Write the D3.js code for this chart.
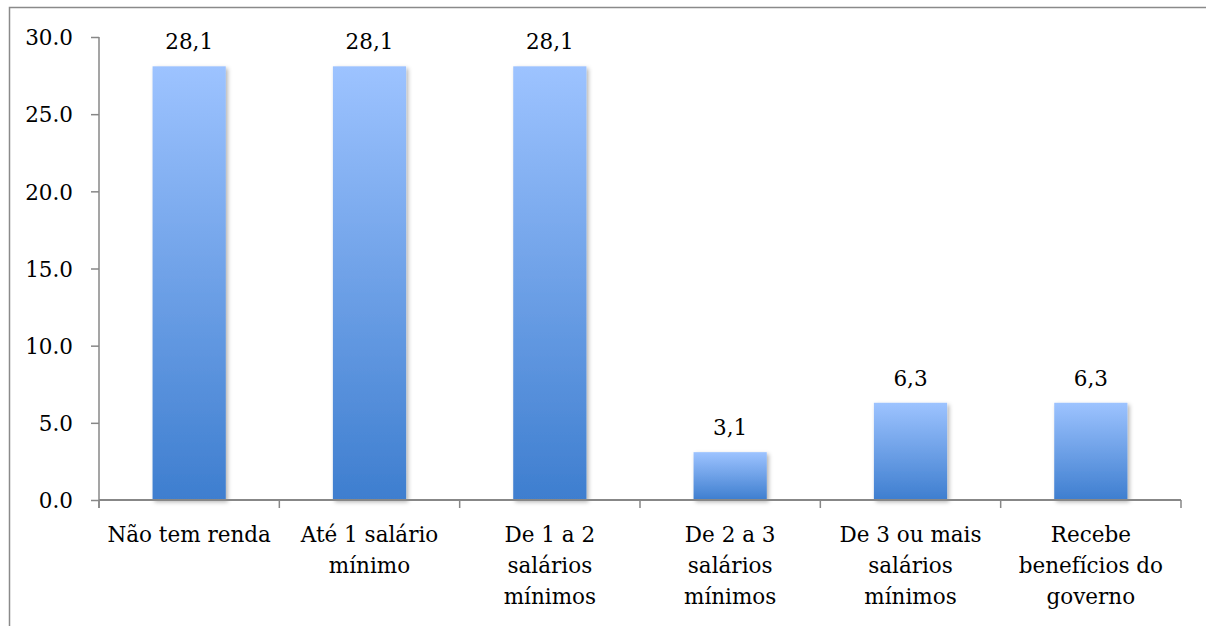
<!DOCTYPE html>
<html>
<head>
<meta charset="utf-8">
<script src="https://cdn.jsdelivr.net/npm/d3@7"></script>
<style>
  html, body { margin: 0; padding: 0; background: #fff; }
  svg { display: block; }
  text { font-family: "DejaVu Serif", serif; fill: #000; }
</style>
</head>
<body>
<svg id="chart" width="1206" height="626"></svg>
<script>
// Renda familiar (%)
const categories = [
  "Não tem renda",
  "Até 1 salário mínimo",
  "De 1 a 2 salários mínimos",
  "De 2 a 3 salários mínimos",
  "De 3 ou mais salários mínimos",
  "Recebe benefícios do governo"
];
const categoryLines = [
  ["Não tem renda"],
  ["Até 1 salário", "mínimo"],
  ["De 1 a 2", "salários", "mínimos"],
  ["De 2 a 3", "salários", "mínimos"],
  ["De 3 ou mais", "salários", "mínimos"],
  ["Recebe", "benefícios do", "governo"]
];
const values = [28.1, 28.1, 28.1, 3.1, 6.3, 6.3];
const yTicks = [0, 5, 10, 15, 20, 25, 30];

const svg = d3.select("#chart");
const W = 1206, H = 626;
const plot = { left: 99, right: 1181, top: 37, bottom: 500 };
const fontSize = 21.5;

// outer frame (left and top edges)
svg.append("path")
  .attr("d", `M9.5,${H} L9.5,7.5 L${W},7.5`)
  .attr("fill", "none")
  .attr("stroke", "#8a8a8a")
  .attr("stroke-width", 1.5);

const x = d3.scaleBand()
  .domain(categories)
  .range([plot.left, plot.right])
  .paddingInner(0.594)
  .paddingOuter(0.297);

const y = d3.scaleLinear()
  .domain([0, 30])
  .range([plot.bottom, plot.top]);

const defs = svg.append("defs");
const grad = defs.append("linearGradient")
  .attr("id", "barGrad")
  .attr("x1", 0).attr("y1", 0).attr("x2", 0).attr("y2", 1);
grad.append("stop").attr("offset", "0%").attr("stop-color", "#9dc3ff");
grad.append("stop").attr("offset", "100%").attr("stop-color", "#3e7ecf");

const shadow = defs.append("filter")
  .attr("id", "barShadow")
  .attr("x", "-20%").attr("y", "-20%")
  .attr("width", "150%").attr("height", "150%");
shadow.append("feDropShadow")
  .attr("dx", 2).attr("dy", 2)
  .attr("stdDeviation", 2)
  .attr("flood-color", "#000")
  .attr("flood-opacity", 0.3);

// bars
svg.append("g")
  .selectAll("rect")
  .data(values)
  .join("rect")
  .attr("x", (d, i) => x(categories[i]))
  .attr("y", d => y(d))
  .attr("width", x.bandwidth())
  .attr("height", d => y(0) - y(d))
  .attr("fill", "url(#barGrad)")
  .attr("filter", "url(#barShadow)");

// value labels (decimal comma)
const ptBR = d3.formatLocale({ decimal: ",", thousands: ".", grouping: [3], currency: ["R$", ""] });
const fmtValue = ptBR.format(".1f");
svg.append("g")
  .selectAll("text")
  .data(values)
  .join("text")
  .attr("x", (d, i) => x(categories[i]) + x.bandwidth() / 2)
  .attr("y", d => y(d) - 17)
  .attr("text-anchor", "middle")
  .attr("font-size", fontSize)
  .text(d => fmtValue(d));

// y axis
const yAxis = d3.axisLeft(y)
  .tickValues(yTicks)
  .tickFormat(d3.format(".1f"))
  .tickSize(8)
  .tickPadding(18);
const gy = svg.append("g")
  .attr("transform", `translate(${plot.left},0)`)
  .call(yAxis);
gy.select(".domain")
  .attr("d", `M0,${plot.top}V${plot.bottom + 8}`)
  .attr("stroke", "#878787")
  .attr("stroke-width", 1.5);
gy.selectAll(".tick line").attr("stroke", "#878787").attr("stroke-width", 1.5);
gy.selectAll(".tick text")
  .attr("font-family", "DejaVu Serif, serif")
  .attr("font-size", fontSize)
  .attr("fill", "#000")
  .attr("dy", "0.36em");

// x axis: baseline with ticks on category boundaries
const gx = svg.append("g")
  .attr("transform", `translate(0,${plot.bottom})`);
gx.append("line")
  .attr("x1", plot.left).attr("x2", plot.right)
  .attr("y1", 0).attr("y2", 0)
  .attr("stroke", "#878787")
  .attr("stroke-width", 2);
const step = x.step();
const boundaries = categories.map((c, i) => x(c) - x.paddingOuter() * step + step)
  .concat([plot.left]);
gx.selectAll("line.tick")
  .data(boundaries)
  .join("line")
  .attr("class", "tick")
  .attr("x1", d => d).attr("x2", d => d)
  .attr("y1", 0).attr("y2", 8)
  .attr("stroke", "#878787")
  .attr("stroke-width", 1.5);

// category labels
const lineH = 31;
const labels = gx.selectAll("text.cat")
  .data(categoryLines)
  .join("text")
  .attr("class", "cat")
  .attr("text-anchor", "middle")
  .attr("font-size", fontSize)
  .attr("transform", (d, i) => `translate(${x(categories[i]) + x.bandwidth() / 2},42)`);
labels.selectAll("tspan")
  .data(d => d)
  .join("tspan")
  .attr("x", 0)
  .attr("y", (d, j) => j * lineH)
  .text(d => d);
</script>
</body>
</html>
